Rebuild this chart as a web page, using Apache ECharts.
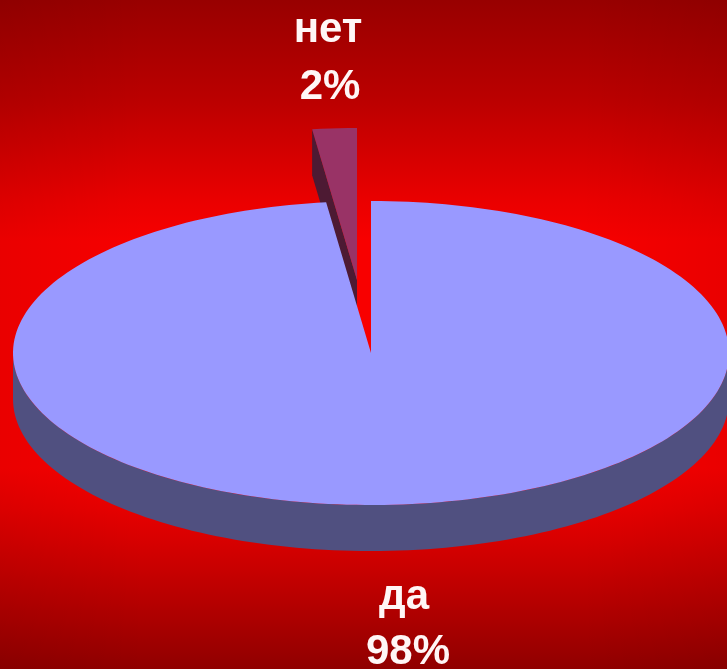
<!DOCTYPE html>
<html><head><meta charset="utf-8">
<style>html,body{margin:0;padding:0;background:#900}#c{width:727px;height:669px}</style>
<script src="https://cdn.jsdelivr.net/npm/echarts@6/dist/echarts.min.js"></script>
</head><body><div id="c"></div>
<script>
const categories = ['да', 'нет'];
const values = [98, 2];

const topColors = ['#9999ff', '#993366'];
const wallColors = ['#505080', '#4d1a33'];
const PIE = { cx: 371, cy: 353, rx: 358, ry: 152, depth: 46, steps: 240 };
const OFFSETS = [[0, 0], [-14, -73]];
const LABELS = [
  [[404, 597], [408, 652]],
  [[328, 30], [330, 87]]
];

const total = values.reduce((a, b) => a + b, 0);
const chart = echarts.init(document.getElementById('c'));

function pt(deg, dx, dy) {
  const r = deg * Math.PI / 180;
  return [PIE.cx + dx + PIE.rx * Math.sin(r), PIE.cy + dy - PIE.ry * Math.cos(r)];
}
function arc(a, b, dx, dy) {
  const n = Math.max(2, Math.ceil(Math.abs(b - a) / 360 * PIE.steps));
  const out = [];
  for (let i = 0; i <= n; i++) out.push(pt(a + (b - a) * i / n, dx, dy));
  return out;
}
function renderItem(params, api) {
  const i = params.dataIndex;
  const before = values.slice(0, i).reduce((a, b) => a + b, 0);
  const a0 = before / total * 360;
  const a1 = (before + api.value(1)) / total * 360;
  const [dx, dy] = OFFSETS[i];
  const apex = [PIE.cx + dx, PIE.cy + dy];
  const layer = i === 0 ? 4 : 1; // the large slice overlaps the exploded one
  const kids = [];
  if (i === 0) {
    const upper = arc(90, 270, dx, dy);
    const lower = arc(270, 90, dx, dy + PIE.depth);
    kids.push({ type: 'polygon', z2: layer, shape: { points: upper.concat(lower) }, style: { fill: wallColors[i] } });
  } else {
    const o = pt(a0, dx, dy);
    kids.push({
      type: 'polygon',
      z2: layer,
      shape: { points: [o, [o[0], o[1] + PIE.depth], [apex[0], apex[1] + PIE.depth], apex] },
      style: { fill: wallColors[i] }
    });
  }
  kids.push({
    type: 'polygon',
    z2: layer + 1,
    shape: { points: [apex].concat(arc(a0, a1, dx, dy)) },
    style: { fill: topColors[i] }
  });
  const font = 'bold 42px "Liberation Sans", Arial, sans-serif';
  [categories[i], Math.round(api.value(1) / total * 100) + '%'].forEach((t, k) => {
    kids.push({
      type: 'text',
      z2: 10,
      style: {
        text: t, x: LABELS[i][k][0], y: LABELS[i][k][1], fill: '#fff6f6', font: font,
        align: 'center', verticalAlign: 'middle'
      }
    });
  });
  return { type: 'group', children: kids };
}

chart.setOption({
  animation: false,
  backgroundColor: new echarts.graphic.LinearGradient(0, 0, 0, 1, [
    { offset: 0, color: '#980000' },
    { offset: 0.15, color: '#bb0000' },
    { offset: 0.3, color: '#ea0000' },
    { offset: 0.36, color: '#f80000' },
    { offset: 0.7, color: '#f80000' },
    { offset: 0.76, color: '#e80000' },
    { offset: 0.84, color: '#cc0000' },
    { offset: 1, color: '#900000' }
  ]),
  graphic: [{
    type: 'rect',
    silent: true,
    z: -1,
    shape: { x: 0, y: 0, width: 727, height: 669 },
    style: {
      fill: new echarts.graphic.LinearGradient(0, 0, 1, 0, [
        { offset: 0, color: 'rgba(0,0,0,0.06)' },
        { offset: 0.2, color: 'rgba(0,0,0,0)' },
        { offset: 0.8, color: 'rgba(0,0,0,0)' },
        { offset: 1, color: 'rgba(0,0,0,0.06)' }
      ])
    }
  }],
  series: [{
    type: 'custom',
    coordinateSystem: 'none',
    renderItem: renderItem,
    data: categories.map((c, i) => ({ name: c, value: [i, values[i]] })),
    z: 2
  }]
});
</script></body></html>
